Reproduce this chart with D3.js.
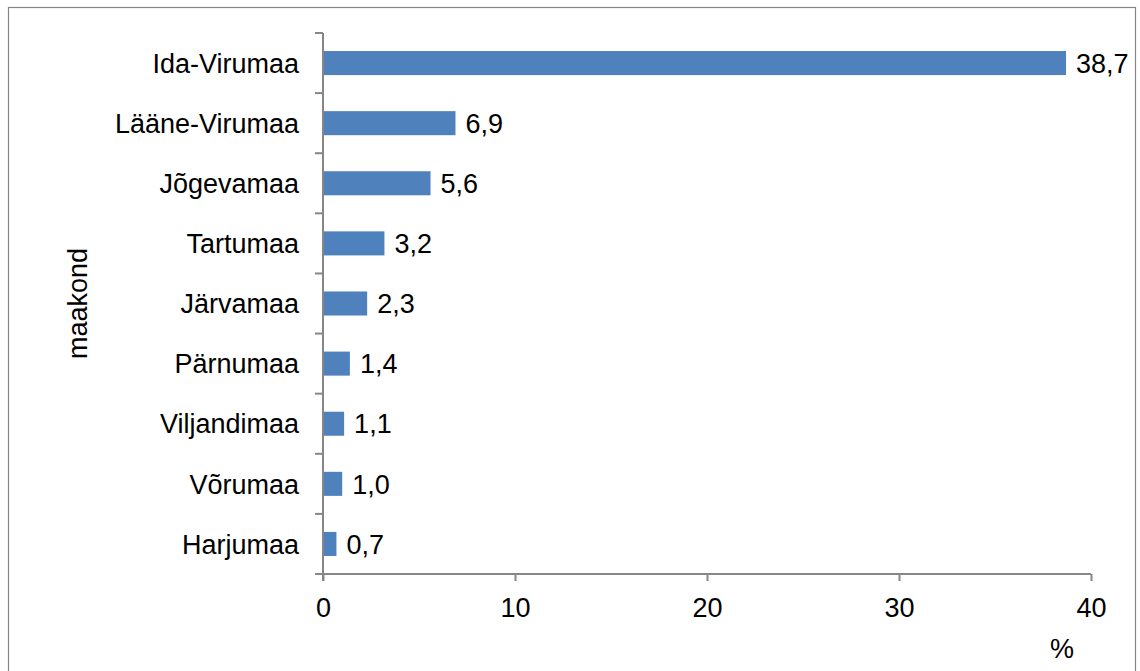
<!DOCTYPE html>
<html>
<head>
<meta charset="utf-8">
<script src="https://cdn.jsdelivr.net/npm/d3@7"></script>
<style>
  html, body { margin: 0; padding: 0; background: #fff; }
  svg { display: block; }
  text { font-family: "Liberation Sans", Arial, sans-serif; fill: #000; }
</style>
</head>
<body>
<svg id="chart" width="1140" height="671"></svg>
<script>
const categories = ["Ida-Virumaa", "Lääne-Virumaa", "Jõgevamaa", "Tartumaa", "Järvamaa", "Pärnumaa", "Viljandimaa", "Võrumaa", "Harjumaa"];
const values = [38.7, 6.9, 5.6, 3.2, 2.3, 1.4, 1.1, 1.0, 0.7];
const xTicks = [0, 10, 20, 30, 40];
const xTitle = "%";
const yTitle = "maakond";

(function () {
const svg = d3.select("#chart");
const pLeft = 323, pRight = 1091, pTop = 33, pBottom = 574;
const axisColor = "#868686";
const fontSize = 27;

// outer border
svg.append("rect")
  .attr("x", 8.5).attr("y", 7.5)
  .attr("width", 1127).attr("height", 670)
  .attr("fill", "none").attr("stroke", axisColor).attr("stroke-width", 1.2);

const x = d3.scaleLinear().domain([0, 40]).range([pLeft, pRight]);
const y = d3.scaleBand().domain(categories).range([pTop, pBottom]).paddingInner(0.6).paddingOuter(0.3);
const yb = d3.scaleBand().domain(categories).range([pTop, pBottom]);

// bars
svg.append("g").selectAll("rect").data(categories).join("rect")
  .attr("x", x(0))
  .attr("y", d => y(d))
  .attr("width", (d, i) => x(values[i]) - x(0))
  .attr("height", y.bandwidth())
  .attr("fill", "#4F81BD");

// value labels
svg.append("g").selectAll("text").data(categories).join("text")
  .attr("x", (d, i) => x(values[i]) + 10)
  .attr("y", d => y(d) + y.bandwidth() / 2)
  .attr("dy", "0.36em")
  .attr("font-size", fontSize)
  .text((d, i) => values[i].toFixed(1).replace(".", ","));

// y axis line and ticks at band boundaries
const gy = svg.append("g");
gy.append("line")
  .attr("x1", pLeft).attr("x2", pLeft)
  .attr("y1", pTop).attr("y2", pBottom + 7)
  .attr("stroke", axisColor).attr("stroke-width", 2);
const boundaries = categories.map(d => yb(d)).concat([pBottom]);
gy.selectAll("line.tk").data(boundaries).join("line")
  .attr("class", "tk")
  .attr("x1", pLeft - 8).attr("x2", pLeft)
  .attr("y1", d => d).attr("y2", d => d)
  .attr("stroke", axisColor).attr("stroke-width", 2);
gy.selectAll("text").data(categories).join("text")
  .attr("x", pLeft - 24)
  .attr("y", d => yb(d) + yb.bandwidth() / 2)
  .attr("dy", "0.36em")
  .attr("text-anchor", "end")
  .attr("font-size", fontSize)
  .text(d => d);

// x axis
const xAxis = d3.axisBottom(x).tickValues(xTicks).tickSize(7).tickSizeOuter(0).tickPadding(17).tickFormat(d3.format("d"));
const gx = svg.append("g").attr("transform", `translate(0,${pBottom})`).call(xAxis);
gx.select(".domain").remove();
gx.append("line").attr("x1", pLeft - 8).attr("x2", pRight).attr("y1", 0).attr("y2", 0)
  .attr("stroke", axisColor).attr("stroke-width", 2);
gx.selectAll(".tick line").attr("stroke", axisColor).attr("stroke-width", 2);
gx.selectAll(".tick text").attr("font-size", fontSize).attr("font-family", "Liberation Sans, Arial, sans-serif").attr("fill", "#000");

// titles
svg.append("text")
  .attr("x", 1062).attr("y", 658)
  .attr("text-anchor", "middle")
  .attr("font-size", fontSize)
  .text(xTitle);

svg.append("text")
  .attr("transform", `translate(87,${(pTop + pBottom) / 2}) rotate(-90)`)
  .attr("text-anchor", "middle")
  .attr("font-size", fontSize)
  .text(yTitle);
})();
</script>
</body>
</html>
